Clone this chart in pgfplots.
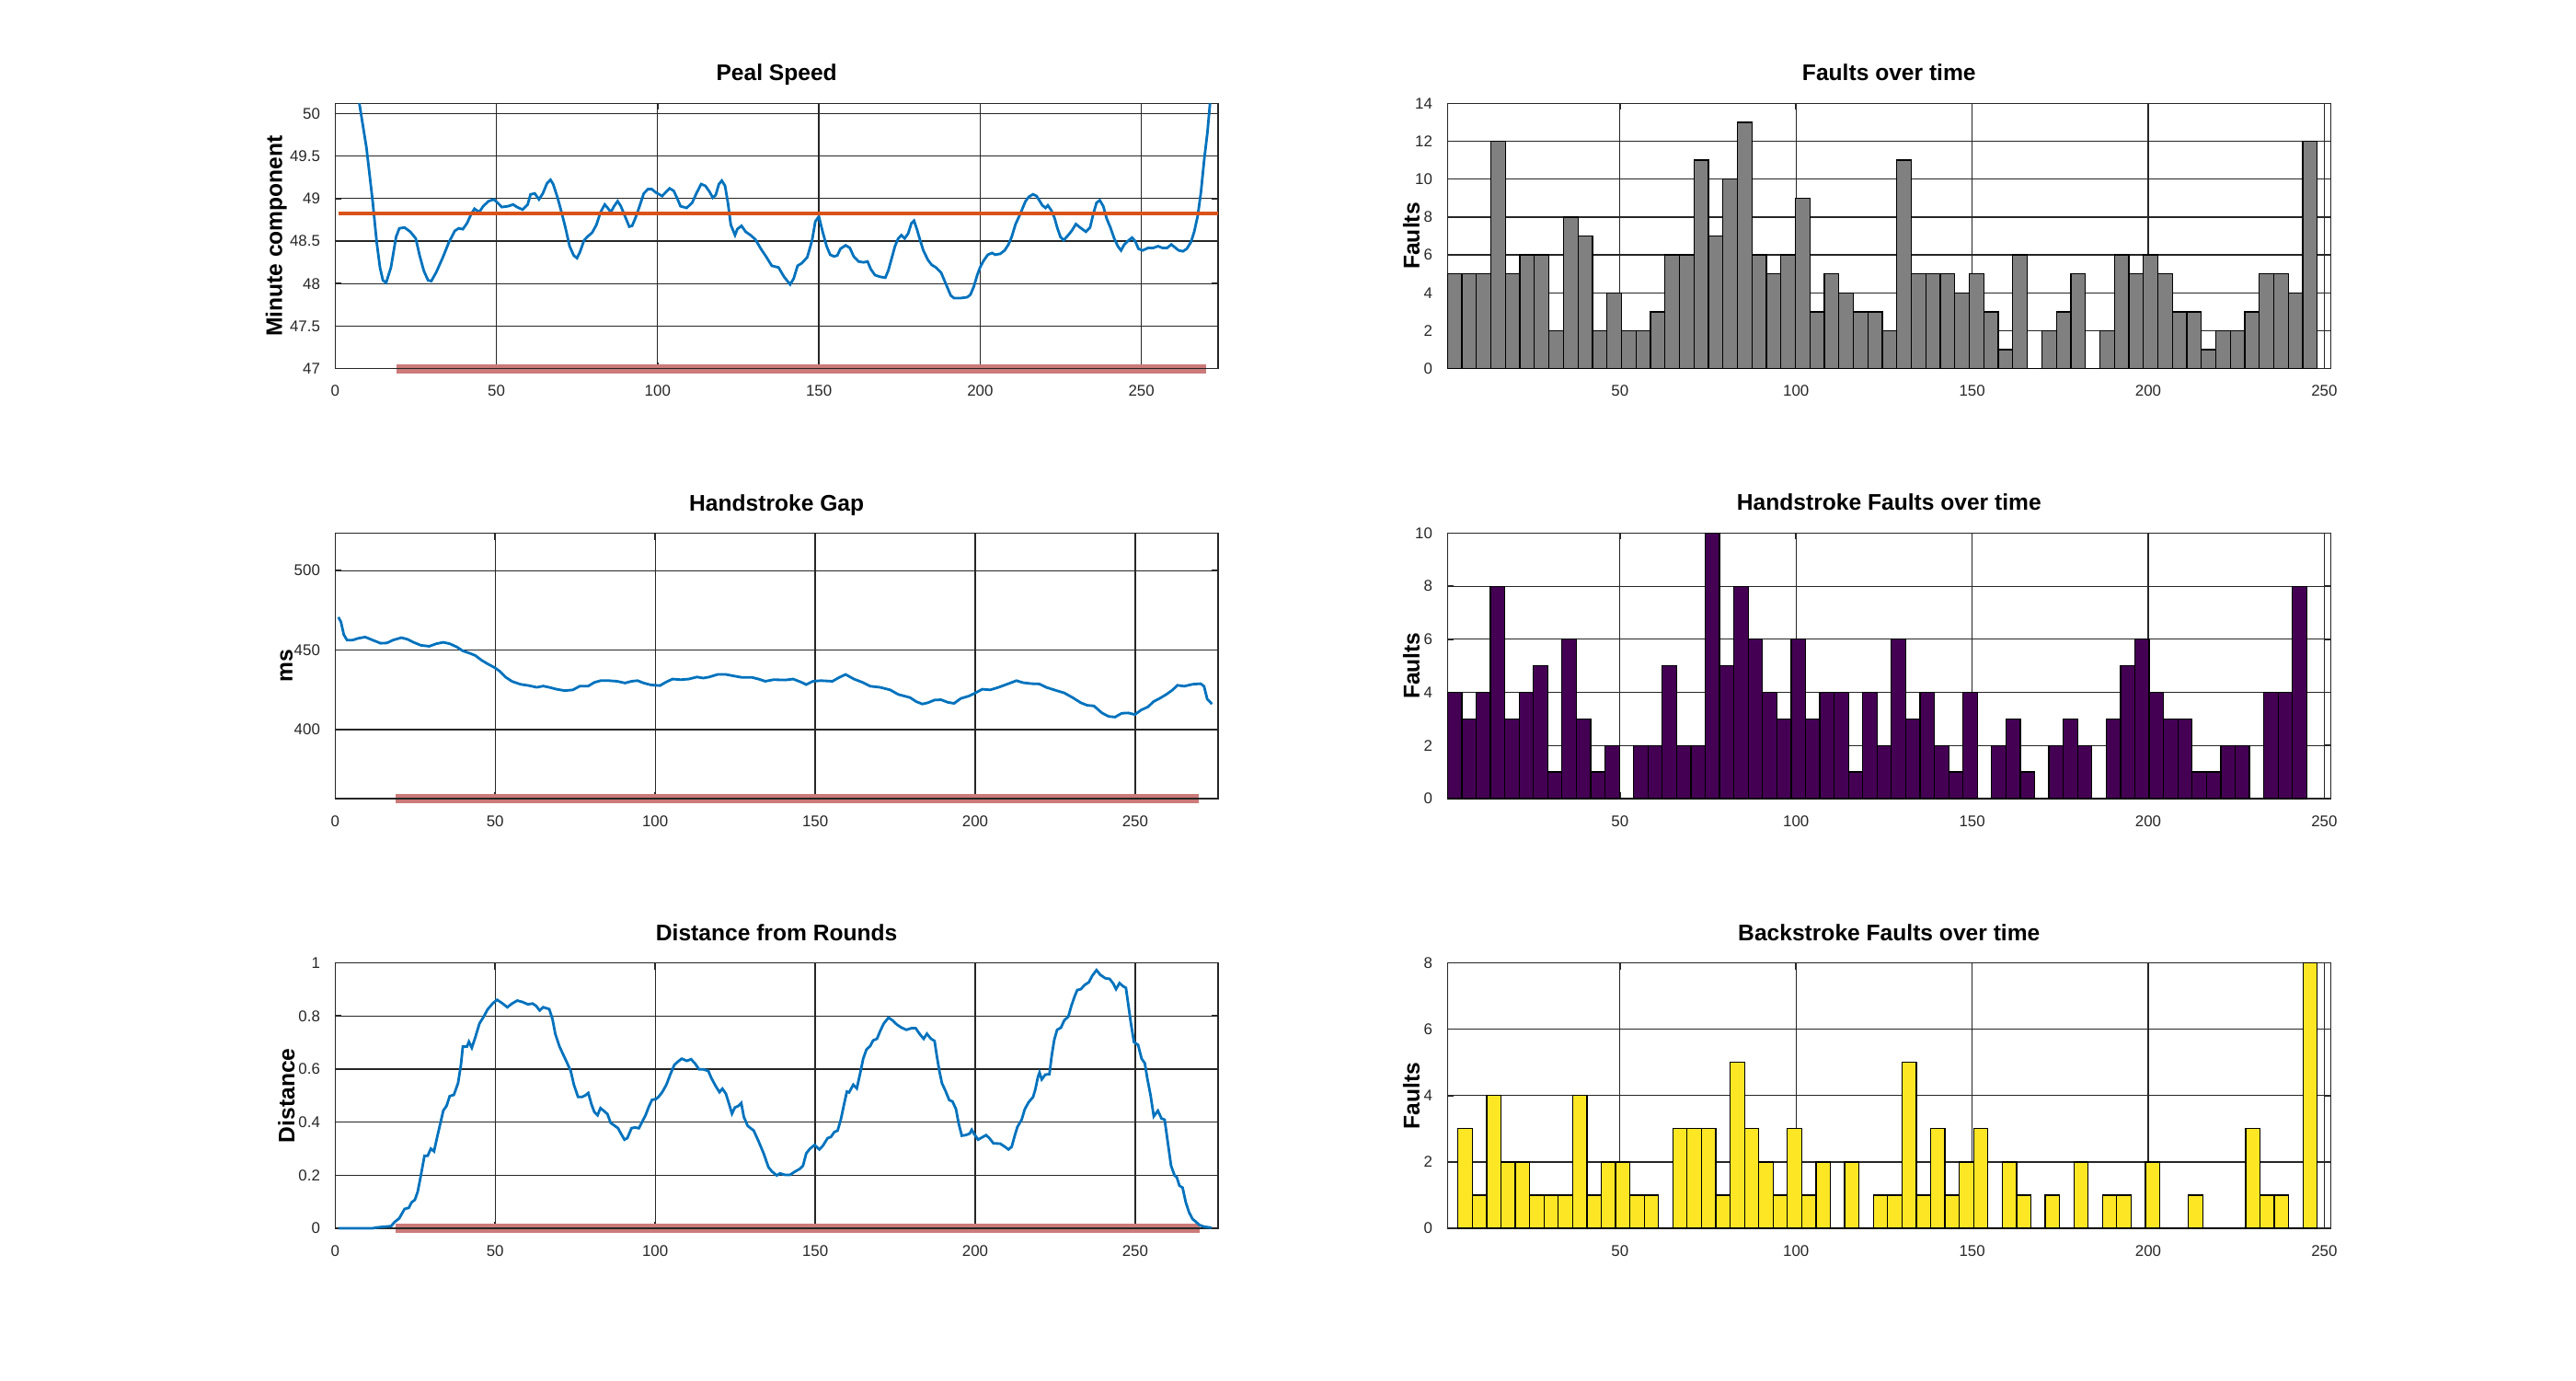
\documentclass[border=0pt]{standalone}
\usepackage{fontspec}
\setmainfont{Liberation Sans}
\usepackage{pgfplots}
\pgfplotsset{compat=1.18}
\definecolor{mblue}{HTML}{0072BD}
\definecolor{morange}{HTML}{D95319}
\definecolor{redbar}{RGB}{204,122,122}
\definecolor{axgray}{HTML}{262626}
\definecolor{vpurple}{HTML}{440154}
\definecolor{vyellow}{HTML}{FDE725}
\definecolor{hgray}{RGB}{128,128,128}
\pgfplotsset{
  oct/.style={
    scale only axis,
    axis line style={axgray, line width=0.45pt},
    grid=major,
    grid style={axgray, line width=0.35pt},
    tick align=inside,
    major tick length=0.07cm,
    every tick/.style={axgray, line width=0.45pt},
    tick label style={font=\fontsize{4.8}{5.6}\selectfont, text=axgray},
    xticklabel style={yshift=-0.06cm},
    yticklabel style={xshift=-0.04cm},
    /pgf/number format/assume math mode=true,
    every axis title/.style={at={(0.5,1)}, anchor=base, yshift=0.245cm, font=\bfseries\fontsize{7}{8.4}\selectfont},
    every axis y label/.style={rotate=90, anchor=center, font=\bfseries\fontsize{7}{8.4}\selectfont},
    scaled ticks=false,
    clip=false,
  },
  lcol/.style={oct, width=9.597cm, height=2.884cm, xmin=0, xtick={0,50,100,150,200,250}},
  rcol/.style={oct, width=9.60cm, height=2.884cm, xmin=1, xmax=251.8, ymin=0,
    xtick={50,100,150,200,250}, ylabel={Faults},
    ylabel style={at={(axis description cs:-0.041,0.5)}}},
}
\pgfplotstableread{
x y
1 5
5.117 5
9.233 5
13.35 12
17.467 5
21.583 6
25.7 6
29.817 2
33.933 8
38.05 7
42.167 2
46.283 4
50.4 2
54.517 2
58.633 3
62.75 6
66.867 6
70.983 11
75.1 7
79.217 10
83.333 13
87.45 6
91.567 5
95.683 6
99.8 9
103.917 3
108.033 5
112.15 4
116.267 3
120.383 3
124.5 2
128.617 11
132.733 5
136.85 5
140.967 5
145.083 4
149.2 5
153.317 3
157.433 1
161.55 6
165.667 0
169.783 2
173.9 3
178.017 5
182.133 0
186.25 2
190.367 6
194.483 5
198.6 6
202.717 5
206.833 3
210.95 3
215.067 1
219.183 2
223.3 2
227.417 3
231.533 5
235.65 5
239.767 4
243.883 12
248 0
}\histall
\pgfplotstableread{
x y
1 4
5.067 3
9.133 4
13.2 8
17.267 3
21.333 4
25.4 5
29.467 1
33.533 6
37.6 3
41.667 1
45.733 2
49.8 0
53.867 2
57.933 2
62 5
66.067 2
70.133 2
74.2 10
78.267 5
82.333 8
86.4 6
90.467 4
94.533 3
98.6 6
102.667 3
106.733 4
110.8 4
114.867 1
118.933 4
123 2
127.067 6
131.133 3
135.2 4
139.267 2
143.333 1
147.4 4
151.467 0
155.533 2
159.6 3
163.667 1
167.733 0
171.8 2
175.867 3
179.933 2
184 0
188.067 3
192.133 5
196.2 6
200.267 4
204.333 3
208.4 3
212.467 1
216.533 1
220.6 2
224.667 2
228.733 0
232.8 4
236.867 4
240.933 8
245 0
}\histhand
\pgfplotstableread{
x y
4 3
8.067 1
12.133 4
16.2 2
20.267 2
24.333 1
28.4 1
32.467 1
36.533 4
40.6 1
44.667 2
48.733 2
52.8 1
56.867 1
60.933 0
65 3
69.067 3
73.133 3
77.2 1
81.267 5
85.333 3
89.4 2
93.467 1
97.533 3
101.6 1
105.667 2
109.733 0
113.8 2
117.867 0
121.933 1
126 1
130.067 5
134.133 1
138.2 3
142.267 1
146.333 2
150.4 3
154.467 0
158.533 2
162.6 1
166.667 0
170.733 1
174.8 0
178.867 2
182.933 0
187 1
191.067 1
195.133 0
199.2 2
203.267 0
207.333 0
211.4 1
215.467 0
219.533 0
223.6 0
227.667 3
231.733 1
235.8 1
239.867 0
243.933 8
248 0
}\histback
\begin{document}
\begin{tikzpicture}
\path[use as bounding box] (0,0) rectangle (28cm,15cm);

% ---------- Peal Speed ----------
\begin{axis}[lcol, at={(3.643cm,13.877cm)}, anchor=north west,
  xmax=273.8, ymin=47, ymax=50.12, ytick={47,47.5,48,48.5,49,49.5,50},
  title={Peal Speed}, ylabel={Minute component},
  ylabel style={at={(axis description cs:-0.0667,0.5)}}]
\addplot[redbar, line width=2.8pt] coordinates {(19,47) (270,47)};
\addplot[axgray, line width=0.45pt] coordinates {(19,47) (270,47)};
\addplot[mblue, line width=0.8pt] coordinates {
(7.5,50.12) (9.7,49.6) (11.6,48.98) (12.9,48.48) (13.9,48.19) (14.8,48.04) (15.8,48.01) (17.3,48.19) (18.9,48.55) (19.9,48.65) (21.5,48.66) (23.3,48.61) (25,48.53) (26.2,48.33) (27.5,48.15) (28.8,48.04) (29.8,48.03) (31.3,48.13) (33.3,48.3) (35.2,48.48) (37.1,48.62) (38.3,48.65) (39.6,48.64) (40.9,48.71) (42.2,48.82) (43.2,48.88) (44.7,48.84) (45.9,48.91) (47.6,48.97) (49.2,48.99) (50.4,48.95) (51.7,48.9) (53.6,48.91) (55.2,48.93) (56.4,48.9) (58.1,48.87) (59.7,48.93) (60.6,49.05) (61.9,49.06) (63.2,48.99) (64.4,49.06) (65.7,49.18) (66.8,49.22) (67.6,49.17) (68.9,49.02) (70.2,48.84) (71.4,48.66) (72.7,48.44) (74,48.33) (75,48.3) (75.9,48.37) (77.2,48.51) (78.5,48.56) (79.7,48.6) (81,48.69) (82.3,48.84) (83.6,48.93) (84.5,48.89) (85.5,48.84) (86.5,48.91) (87.6,48.97) (88.6,48.91) (89.9,48.79) (91.2,48.67) (92.1,48.68) (93.1,48.77) (94.4,48.91) (95.7,49.06) (97,49.11) (98.2,49.11) (99.5,49.07) (101.4,49.03) (102.7,49.08) (103.7,49.12) (105,49.09) (106.1,49.0) (107.1,48.91) (109,48.89) (110.7,48.95) (112,49.06) (113.5,49.17) (114.8,49.15) (116.1,49.08) (117.1,49.01) (118,49.04) (119,49.17) (119.9,49.21) (120.9,49.15) (121.8,48.95) (122.7,48.69) (124,48.57) (124.7,48.64) (126,48.68) (127.3,48.61) (128.8,48.57) (130.3,48.52) (132,48.41) (133.6,48.32) (135.4,48.21) (137.5,48.19) (139.2,48.08) (141.1,47.99) (142.2,48.06) (143.4,48.21) (144.7,48.24) (146.4,48.31) (147.9,48.51) (148.9,48.73) (150,48.79) (151.1,48.62) (152.4,48.44) (153.5,48.34) (154.7,48.32) (155.7,48.33) (156.7,48.41) (158.3,48.45) (159.6,48.42) (160.8,48.32) (162.3,48.26) (163.9,48.25) (165.1,48.26) (166.1,48.17) (167.4,48.1) (169,48.08) (170.6,48.07) (171.5,48.15) (172.6,48.3) (173.6,48.44) (174.6,48.53) (175.6,48.57) (176.6,48.53) (177.7,48.59) (178.7,48.71) (179.5,48.74) (180.4,48.64) (181.4,48.51) (182.4,48.39) (183.8,48.28) (185,48.22) (186.3,48.19) (187.9,48.13) (188.9,48.04) (189.9,47.95) (190.9,47.86) (191.9,47.83) (194,47.83) (196,47.84) (197,47.87) (198.1,47.97) (199.1,48.1) (200.1,48.2) (201.1,48.27) (202.4,48.34) (203.7,48.36) (204.7,48.34) (206.2,48.35) (207.6,48.39) (208.8,48.46) (209.8,48.55) (211,48.7) (212.1,48.79) (213.1,48.88) (214.1,48.97) (215.1,49.02) (216.4,49.05) (217.5,49.03) (218.5,48.97) (219.3,48.92) (220.3,48.89) (221,48.92) (222.1,48.86) (223.1,48.77) (223.9,48.66) (224.9,48.55) (225.9,48.51) (227.1,48.56) (228.4,48.62) (229.7,48.7) (231,48.66) (232.8,48.61) (234.1,48.66) (235.1,48.82) (236.1,48.95) (237.1,48.98) (238.2,48.91) (239.2,48.77) (240.4,48.66) (241.6,48.53) (242.7,48.44) (243.7,48.39) (244.7,48.46) (246.1,48.51) (247.1,48.54) (248.1,48.5) (249.1,48.41) (250.4,48.39) (252.1,48.42) (253.7,48.42) (255.2,48.44) (256.5,48.42) (258,48.42) (259.3,48.46) (260.6,48.42) (261.6,48.39) (262.9,48.38) (264.1,48.41) (265.4,48.49) (266.4,48.61) (267.5,48.8) (268.5,49.08) (269.5,49.46) (270.5,49.78) (271.3,50.12)
};
\addplot[morange, line width=1.0pt] coordinates {(1,48.825) (273.8,48.825)};
\end{axis}

% ---------- Handstroke Gap ----------
\begin{axis}[lcol, at={(3.643cm,9.205cm)}, anchor=north west,
  xmax=275.9, ymin=356.7, ymax=523.5, ytick={400,450,500},
  title={Handstroke Gap}, ylabel={ms},
  ylabel style={at={(axis description cs:-0.0552,0.5)}}]
\addplot[redbar, line width=2.8pt] coordinates {(19,356.7) (270,356.7)};
\addplot[axgray, line width=0.45pt] coordinates {(19,356.7) (270,356.7)};
\addplot[mblue, line width=0.8pt] coordinates {
(1,470.7) (1.8,467.8) (2.7,459.7) (3.7,456.3) (5.5,456.3) (7.2,457.4) (9.4,458.2) (11.7,456.3) (14.2,454.3) (16.2,454.5) (18.1,456.3) (20.7,457.8) (22.6,456.8) (24.5,454.9) (26.8,453) (29.4,452.4) (31.6,454) (33.8,454.9) (35.8,454) (38,452) (39.9,449.5) (41.8,448.2) (43.8,446.6) (45.7,443.7) (47.6,441.4) (49.9,438.9) (51.5,436.6) (53.4,432.8) (55.3,430.3) (57.9,428.5) (60.5,427.7) (63,426.6) (65,427.4) (66.9,426.6) (69.2,425.4) (71.8,424.5) (74.3,425) (76.5,427.4) (79.1,427.4) (81,429.7) (83,430.8) (85.5,430.8) (88.1,430.4) (90.6,429.3) (92.6,430.4) (94.5,430.8) (96.4,429.3) (98.7,428.1) (101.5,427.7) (103.4,429.9) (105.4,431.8) (108,431.4) (110.5,431.8) (113.1,433.1) (115,432.4) (116.9,433.1) (119.5,434.7) (122.1,434.7) (124.7,433.7) (127.2,432.8) (130.3,432.8) (132.3,431.8) (134.4,430.4) (137,431.4) (140.7,431.2) (143.1,431.8) (145.7,429.8) (147.2,428.3) (149.3,430.4) (151.8,430.8) (155.4,430.4) (157.5,432.8) (159.5,434.7) (162.1,431.8) (164.7,429.8) (167.2,427.3) (170.3,426.6) (173.4,425) (176,422.1) (179.6,420.2) (181.6,417.6) (183.5,416.1) (185.2,416.9) (187.3,418.6) (189.3,418.8) (191.4,417.2) (193.4,416.5) (195.5,419.6) (198,421.1) (200.1,423.1) (202.2,425.4) (204.7,425) (207.3,426.6) (210.4,428.9) (212.9,430.8) (215,429.5) (217.6,428.9) (220.1,428.7) (222.2,426.6) (225.3,424.6) (227.8,423.1) (230.4,420.2) (233,416.9) (235,415.3) (237.1,414.9) (239.6,410.5) (241.7,408.3) (243.7,407.9) (245.8,410.3) (247.8,410.5) (249.9,409.5) (251.9,412.4) (254,414.3) (255.7,417.6) (257.6,419.6) (259.7,422.1) (261.7,425) (263.2,427.9) (265.3,427.3) (267.9,428.5) (270.4,428.9) (271.5,427.3) (272.5,419.2) (274,416.1)
};
\end{axis}

% ---------- Distance from Rounds ----------
\begin{axis}[lcol, at={(3.643cm,4.534cm)}, anchor=north west,
  xmax=275.9, ymin=0, ymax=1, ytick={0,0.2,0.4,0.6,0.8,1},
  title={Distance from Rounds}, ylabel={Distance},
  ylabel style={at={(axis description cs:-0.0552,0.5)}}]
\addplot[redbar, line width=2.8pt] coordinates {(19,0) (270,0)};
\addplot[axgray, line width=0.45pt] coordinates {(19,0) (270,0)};
\addplot[mblue, line width=0.8pt] coordinates {
(1,0) (11.7,0) (13,0.003) (15.5,0.006) (17.5,0.008) (18.5,0.023) (20,0.037) (21.7,0.073) (23,0.077) (23.9,0.098) (24.9,0.107) (25.8,0.138) (26.8,0.2) (27.9,0.273) (28.9,0.273) (29.9,0.3) (30.9,0.29) (31.8,0.34) (32.9,0.397) (33.8,0.444) (34.8,0.461) (35.8,0.498) (37.1,0.503) (38.4,0.547) (39.3,0.616) (39.9,0.685) (41.2,0.685) (41.8,0.703) (42.7,0.68) (43.8,0.72) (45.1,0.772) (46.3,0.795) (47.6,0.824) (49.2,0.847) (50.6,0.861) (52.1,0.849) (53.8,0.833) (55.3,0.847) (56.9,0.858) (58.5,0.853) (60.2,0.844) (61.7,0.847) (62.8,0.838) (63.9,0.821) (65,0.833) (66.9,0.826) (67.9,0.789) (68.8,0.732) (70.1,0.685) (71.4,0.651) (72.3,0.628) (73.6,0.593) (74.6,0.541) (75.9,0.495) (77.2,0.495) (78.2,0.501) (79.1,0.51) (80.1,0.467) (81,0.438) (82,0.426) (82.9,0.453) (84.2,0.44) (85.1,0.43) (86.1,0.397) (87.4,0.386) (88.4,0.377) (89.3,0.357) (90.4,0.334) (91.3,0.34) (92.6,0.377) (93.6,0.38) (94.9,0.377) (96,0.403) (97,0.426) (97.9,0.455) (99,0.484) (100.3,0.487) (101.3,0.499) (102.2,0.513) (103.5,0.541) (104.8,0.582) (106,0.616) (107.3,0.63) (108.3,0.639) (109.9,0.631) (111.2,0.637) (112.4,0.622) (113.7,0.599) (115,0.599) (116.6,0.593) (117.6,0.565) (118.9,0.536) (120.1,0.513) (121,0.526) (122.1,0.507) (123,0.472) (124,0.432) (124.9,0.455) (126,0.461) (126.9,0.472) (127.7,0.42) (128.9,0.386) (130.8,0.368) (132.3,0.328) (133.9,0.282) (135.4,0.23) (136.4,0.215) (138,0.199) (139,0.207) (140.6,0.201) (142.1,0.201) (143.6,0.213) (145.2,0.224) (146.2,0.236) (147.2,0.282) (148.3,0.299) (149.8,0.314) (151.3,0.297) (152.4,0.311) (153.9,0.34) (154.9,0.344) (156,0.363) (157,0.368) (158,0.409) (159,0.466) (159.9,0.515) (160.6,0.512) (161.9,0.541) (163,0.527) (164,0.581) (165,0.639) (166,0.673) (167.2,0.687) (168.1,0.708) (169.3,0.714) (170.3,0.743) (171.4,0.771) (172.9,0.794) (174.2,0.783) (175.5,0.768) (177,0.756) (178.5,0.748) (180.1,0.754) (181.4,0.754) (182.6,0.733) (183.9,0.714) (184.9,0.733) (186.2,0.714) (187.3,0.706) (188,0.65) (188.8,0.593) (189.6,0.547) (190.7,0.518) (191.9,0.483) (192.9,0.478) (194,0.449) (194.8,0.397) (195.8,0.349) (197,0.351) (198.3,0.357) (198.9,0.371) (199.6,0.357) (200.9,0.334) (202.2,0.343) (203.4,0.351) (204.4,0.34) (205.7,0.32) (207.8,0.319) (209.3,0.307) (210.4,0.297) (211.4,0.307) (212.4,0.351) (213.2,0.382) (214.5,0.409) (215.5,0.449) (216.7,0.475) (218.1,0.495) (218.8,0.524) (219.6,0.57) (220.1,0.587) (220.8,0.561) (221.9,0.579) (223.2,0.581) (223.9,0.65) (224.7,0.71) (225.6,0.748) (226.8,0.756) (227.8,0.783) (229.1,0.798) (230.1,0.84) (231.1,0.875) (231.9,0.898) (233,0.901) (234.2,0.917) (235.5,0.927) (236.6,0.952) (237.9,0.973) (239.1,0.955) (240.7,0.942) (242,0.94) (243.2,0.921) (244,0.901) (245.1,0.924) (246.1,0.913) (247.1,0.906) (247.8,0.846) (248.6,0.777) (249.6,0.702) (250.9,0.691) (252,0.639) (253,0.622) (253.7,0.57) (254.8,0.501) (255.8,0.422) (257.1,0.443) (258.2,0.414) (259.2,0.409) (260.2,0.322) (261.2,0.236) (262.3,0.199) (263,0.192) (263.8,0.161) (264.8,0.153) (265.8,0.098) (266.8,0.061) (267.9,0.035) (268.9,0.025) (270.1,0.012) (271.5,0.006) (273.8,0.002)
};
\end{axis}

% ---------- Faults over time ----------
\begin{axis}[rcol, at={(15.733cm,13.877cm)}, anchor=north west,
  ymax=14, ytick={0,2,4,6,8,10,12,14}, title={Faults over time}]
\addplot[ybar interval, fill=hgray, draw=black, line width=0.35pt] table[x=x,y=y] {\histall};
\end{axis}

% ---------- Handstroke Faults ----------
\begin{axis}[rcol, at={(15.733cm,9.205cm)}, anchor=north west,
  ymax=10, ytick={0,2,4,6,8,10}, title={Handstroke Faults over time}]
\addplot[ybar interval, fill=vpurple, draw=black, line width=0.35pt] table[x=x,y=y] {\histhand};
\end{axis}

% ---------- Backstroke Faults ----------
\begin{axis}[rcol, at={(15.733cm,4.534cm)}, anchor=north west,
  ymax=8, ytick={0,2,4,6,8}, title={Backstroke Faults over time}]
\addplot[ybar interval, fill=vyellow, draw=black, line width=0.35pt] table[x=x,y=y] {\histback};
\end{axis}
\end{tikzpicture}
\end{document}
